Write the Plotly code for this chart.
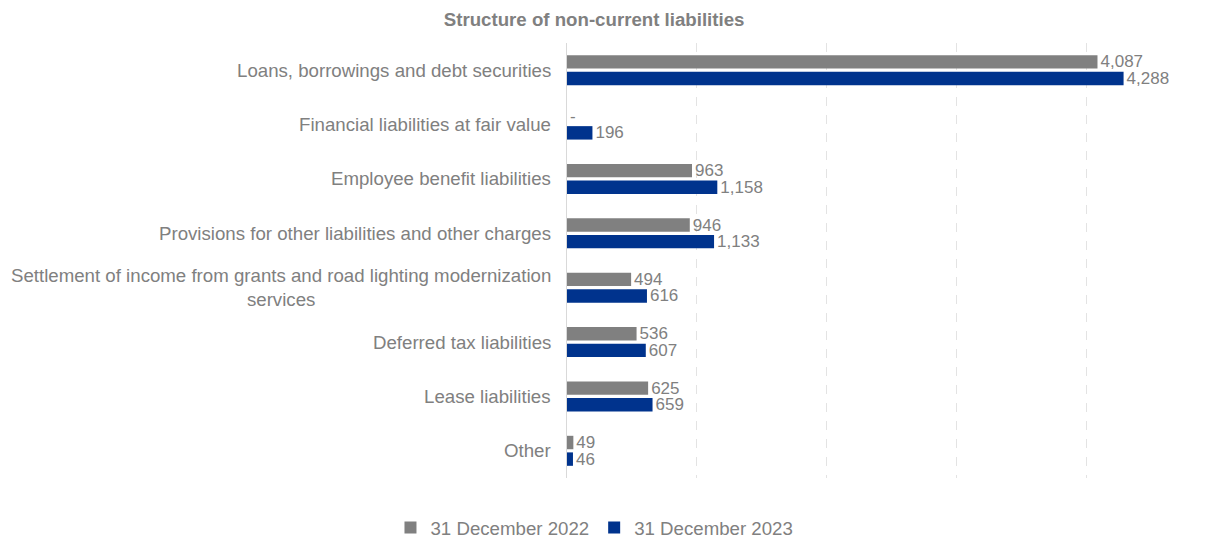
import plotly.graph_objects as go

categories = [
    "Loans, borrowings and debt securities",
    "Financial liabilities at fair value",
    "Employee benefit liabilities",
    "Provisions for other liabilities and other charges",
    "Settlement of income from grants and road lighting modernization<br>services",
    "Deferred tax liabilities",
    "Lease liabilities",
    "Other",
]
series_names = ["31 December 2022", "31 December 2023"]
values_2022 = [4087, 0, 963, 946, 494, 536, 625, 49]
values_2023 = [4288, 196, 1158, 1133, 616, 607, 659, 46]
colors = ["#808080", "#00338D"]

FONT = "Arial, Liberation Sans, sans-serif"
GRAY_TXT = "#808080"
FS = 18.67
FS_VAL = 17


def fmt(v):
    return "-" if v == 0 else f"{v:,}"


fig = go.Figure()
for name, vals, col in zip(series_names, [values_2022, values_2023], colors):
    fig.add_trace(go.Bar(
        y=categories, x=vals, name=name, orientation="h",
        marker=dict(color=col, line=dict(width=0)),
        text=[fmt(v) for v in vals], textposition="outside",
        constraintext="none",
        textfont=dict(size=FS_VAL, color=GRAY_TXT, family=FONT),
        cliponaxis=False,
    ))

for c in categories:
    fig.add_annotation(
        x=0, xref="paper", y=c, yref="y", xanchor="right", xshift=-14,
        text=c, showarrow=False, align="center",
        font=dict(size=FS, color=GRAY_TXT, family=FONT),
    )

fig.update_layout(
    width=1216, height=538,
    margin=dict(l=559, r=8, t=35, b=68),
    paper_bgcolor="white", plot_bgcolor="white",
    barmode="group", bargap=0.39, bargroupgap=0.19,
    font=dict(family=FONT, color=GRAY_TXT),
    title=dict(text="<b>Structure of non-current liabilities</b>",
               x=0.482, xref="container", xanchor="center",
               y=0.978, yref="container", yanchor="middle",
               font=dict(size=FS, color=GRAY_TXT, family=FONT)),
    legend=dict(orientation="h", x=0.4823, xref="container", xanchor="center",
                y=0.0335, yref="container", yanchor="middle",
                font=dict(size=FS, color=GRAY_TXT, family=FONT),
                itemwidth=30, traceorder="normal"),
    xaxis=dict(range=[0, 5000], dtick=1000, showticklabels=False,
               showgrid=True, gridcolor="#e3e3e3", griddash="dash",
               zeroline=False, showline=False),
    yaxis=dict(autorange="reversed", showticklabels=False, showgrid=False,
               showline=True, linecolor="#d9d9d9", linewidth=1,
               ticks=""),
)

fig.write_html("out.html")
